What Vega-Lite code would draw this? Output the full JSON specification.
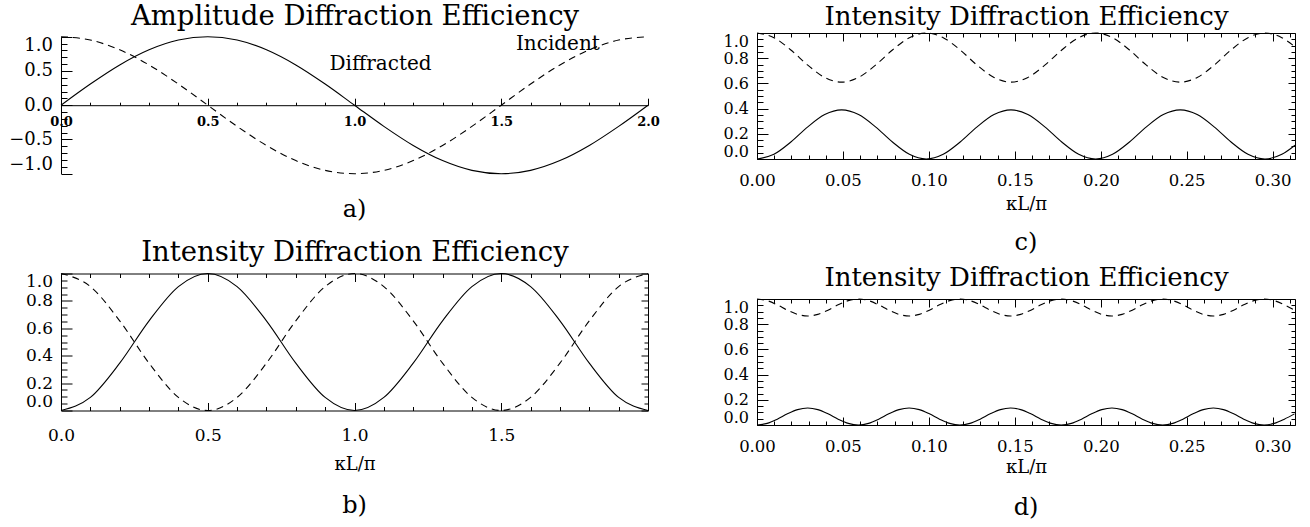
{
  "$schema": "https://vega.github.io/schema/vega-lite/v6.json",
  "background": "white",
  "padding": {"left": 8, "top": 2, "right": 5, "bottom": 5},
  "config": {
    "font": "DejaVu Serif",
    "view": {"stroke": null},
    "axis": {
      "domainColor": "black", "tickColor": "black", "labelColor": "black", "titleColor": "black",
      "grid": false, "labelFont": "DejaVu Serif", "titleFont": "DejaVu Serif", "titleFontWeight": "normal",
      "domainWidth": 1, "tickWidth": 1, "labelFontSize": 17, "titleFontSize": 27.5,
      "labelFlush": false, "labelOverlap": false
    },
    "title": {"font": "DejaVu Serif", "fontWeight": "normal", "fontSize": 24, "color": "black"},
    "line": {"color": "black", "strokeWidth": 1.1, "interpolate": "monotone"},
    "text": {"color": "black"}
  },
  "datasets": {
    "amp": [
      {"x": 0, "diffracted": 0, "incident": 1},
      {"x": 0.1, "diffracted": 0.309, "incident": 0.9511},
      {"x": 0.2, "diffracted": 0.5878, "incident": 0.809},
      {"x": 0.3, "diffracted": 0.809, "incident": 0.5878},
      {"x": 0.4, "diffracted": 0.9511, "incident": 0.309},
      {"x": 0.5, "diffracted": 1, "incident": 0},
      {"x": 0.6, "diffracted": 0.9511, "incident": -0.309},
      {"x": 0.7, "diffracted": 0.809, "incident": -0.5878},
      {"x": 0.8, "diffracted": 0.5878, "incident": -0.809},
      {"x": 0.9, "diffracted": 0.309, "incident": -0.9511},
      {"x": 1.0, "diffracted": 0, "incident": -1},
      {"x": 1.1, "diffracted": -0.309, "incident": -0.9511},
      {"x": 1.2, "diffracted": -0.5878, "incident": -0.809},
      {"x": 1.3, "diffracted": -0.809, "incident": -0.5878},
      {"x": 1.4, "diffracted": -0.9511, "incident": -0.309},
      {"x": 1.5, "diffracted": -1, "incident": 0},
      {"x": 1.6, "diffracted": -0.9511, "incident": 0.309},
      {"x": 1.7, "diffracted": -0.809, "incident": 0.5878},
      {"x": 1.8, "diffracted": -0.5878, "incident": 0.809},
      {"x": 1.9, "diffracted": -0.309, "incident": 0.9511},
      {"x": 2.0, "diffracted": 0, "incident": 1}
    ],
    "notes": [
      {"x": 0.915, "y": 0.52, "label": "Diffracted"},
      {"x": 1.55, "y": 0.81, "label": "Incident"}
    ],
    "intB": [
      {"x": 0, "diffracted": 0, "incident": 1},
      {"x": 0.1, "diffracted": 0.0955, "incident": 0.9045},
      {"x": 0.2, "diffracted": 0.3455, "incident": 0.6545},
      {"x": 0.3, "diffracted": 0.6545, "incident": 0.3455},
      {"x": 0.4, "diffracted": 0.9045, "incident": 0.0955},
      {"x": 0.5, "diffracted": 1, "incident": 0},
      {"x": 0.6, "diffracted": 0.9045, "incident": 0.0955},
      {"x": 0.7, "diffracted": 0.6545, "incident": 0.3455},
      {"x": 0.8, "diffracted": 0.3455, "incident": 0.6545},
      {"x": 0.9, "diffracted": 0.0955, "incident": 0.9045},
      {"x": 1.0, "diffracted": 0, "incident": 1},
      {"x": 1.1, "diffracted": 0.0955, "incident": 0.9045},
      {"x": 1.2, "diffracted": 0.3455, "incident": 0.6545},
      {"x": 1.3, "diffracted": 0.6545, "incident": 0.3455},
      {"x": 1.4, "diffracted": 0.9045, "incident": 0.0955},
      {"x": 1.5, "diffracted": 1, "incident": 0},
      {"x": 1.6, "diffracted": 0.9045, "incident": 0.0955},
      {"x": 1.7, "diffracted": 0.6545, "incident": 0.3455},
      {"x": 1.8, "diffracted": 0.3455, "incident": 0.6545},
      {"x": 1.9, "diffracted": 0.0955, "incident": 0.9045},
      {"x": 2.0, "diffracted": 0, "incident": 1}
    ],
    "intC": [
      {"x": 0, "diffracted": 0, "incident": 1},
      {"x": 0.00985, "diffracted": 0.0372, "incident": 0.9628},
      {"x": 0.0197, "diffracted": 0.1347, "incident": 0.8653},
      {"x": 0.02955, "diffracted": 0.2553, "incident": 0.7447},
      {"x": 0.0394, "diffracted": 0.3528, "incident": 0.6472},
      {"x": 0.04925, "diffracted": 0.39, "incident": 0.61},
      {"x": 0.0591, "diffracted": 0.3528, "incident": 0.6472},
      {"x": 0.06895, "diffracted": 0.2553, "incident": 0.7447},
      {"x": 0.0788, "diffracted": 0.1347, "incident": 0.8653},
      {"x": 0.08865, "diffracted": 0.0372, "incident": 0.9628},
      {"x": 0.0985, "diffracted": 0, "incident": 1},
      {"x": 0.10835, "diffracted": 0.0372, "incident": 0.9628},
      {"x": 0.1182, "diffracted": 0.1347, "incident": 0.8653},
      {"x": 0.12805, "diffracted": 0.2553, "incident": 0.7447},
      {"x": 0.1379, "diffracted": 0.3528, "incident": 0.6472},
      {"x": 0.14775, "diffracted": 0.39, "incident": 0.61},
      {"x": 0.1576, "diffracted": 0.3528, "incident": 0.6472},
      {"x": 0.16745, "diffracted": 0.2553, "incident": 0.7447},
      {"x": 0.1773, "diffracted": 0.1347, "incident": 0.8653},
      {"x": 0.18715, "diffracted": 0.0372, "incident": 0.9628},
      {"x": 0.197, "diffracted": 0, "incident": 1},
      {"x": 0.20685, "diffracted": 0.0372, "incident": 0.9628},
      {"x": 0.2167, "diffracted": 0.1347, "incident": 0.8653},
      {"x": 0.22655, "diffracted": 0.2553, "incident": 0.7447},
      {"x": 0.2364, "diffracted": 0.3528, "incident": 0.6472},
      {"x": 0.24625, "diffracted": 0.39, "incident": 0.61},
      {"x": 0.2561, "diffracted": 0.3528, "incident": 0.6472},
      {"x": 0.26595, "diffracted": 0.2553, "incident": 0.7447},
      {"x": 0.2758, "diffracted": 0.1347, "incident": 0.8653},
      {"x": 0.28565, "diffracted": 0.0372, "incident": 0.9628},
      {"x": 0.2955, "diffracted": 0, "incident": 1},
      {"x": 0.30535, "diffracted": 0.0372, "incident": 0.9628},
      {"x": 0.313, "diffracted": 0.1095, "incident": 0.8905}
    ],
    "intD": [
      {"x": 0, "diffracted": 0, "incident": 1},
      {"x": 0.0059, "diffracted": 0.0129, "incident": 0.9871},
      {"x": 0.0118, "diffracted": 0.0466, "incident": 0.9534},
      {"x": 0.0177, "diffracted": 0.0884, "incident": 0.9116},
      {"x": 0.0236, "diffracted": 0.1221, "incident": 0.8779},
      {"x": 0.0295, "diffracted": 0.135, "incident": 0.865},
      {"x": 0.0354, "diffracted": 0.1221, "incident": 0.8779},
      {"x": 0.0413, "diffracted": 0.0884, "incident": 0.9116},
      {"x": 0.0472, "diffracted": 0.0466, "incident": 0.9534},
      {"x": 0.0531, "diffracted": 0.0129, "incident": 0.9871},
      {"x": 0.059, "diffracted": 0, "incident": 1},
      {"x": 0.0649, "diffracted": 0.0129, "incident": 0.9871},
      {"x": 0.0708, "diffracted": 0.0466, "incident": 0.9534},
      {"x": 0.0767, "diffracted": 0.0884, "incident": 0.9116},
      {"x": 0.0826, "diffracted": 0.1221, "incident": 0.8779},
      {"x": 0.0885, "diffracted": 0.135, "incident": 0.865},
      {"x": 0.0944, "diffracted": 0.1221, "incident": 0.8779},
      {"x": 0.1003, "diffracted": 0.0884, "incident": 0.9116},
      {"x": 0.1062, "diffracted": 0.0466, "incident": 0.9534},
      {"x": 0.1121, "diffracted": 0.0129, "incident": 0.9871},
      {"x": 0.118, "diffracted": 0, "incident": 1},
      {"x": 0.1239, "diffracted": 0.0129, "incident": 0.9871},
      {"x": 0.1298, "diffracted": 0.0466, "incident": 0.9534},
      {"x": 0.1357, "diffracted": 0.0884, "incident": 0.9116},
      {"x": 0.1416, "diffracted": 0.1221, "incident": 0.8779},
      {"x": 0.1475, "diffracted": 0.135, "incident": 0.865},
      {"x": 0.1534, "diffracted": 0.1221, "incident": 0.8779},
      {"x": 0.1593, "diffracted": 0.0884, "incident": 0.9116},
      {"x": 0.1652, "diffracted": 0.0466, "incident": 0.9534},
      {"x": 0.1711, "diffracted": 0.0129, "incident": 0.9871},
      {"x": 0.177, "diffracted": 0, "incident": 1},
      {"x": 0.1829, "diffracted": 0.0129, "incident": 0.9871},
      {"x": 0.1888, "diffracted": 0.0466, "incident": 0.9534},
      {"x": 0.1947, "diffracted": 0.0884, "incident": 0.9116},
      {"x": 0.2006, "diffracted": 0.1221, "incident": 0.8779},
      {"x": 0.2065, "diffracted": 0.135, "incident": 0.865},
      {"x": 0.2124, "diffracted": 0.1221, "incident": 0.8779},
      {"x": 0.2183, "diffracted": 0.0884, "incident": 0.9116},
      {"x": 0.2242, "diffracted": 0.0466, "incident": 0.9534},
      {"x": 0.2301, "diffracted": 0.0129, "incident": 0.9871},
      {"x": 0.236, "diffracted": 0, "incident": 1},
      {"x": 0.2419, "diffracted": 0.0129, "incident": 0.9871},
      {"x": 0.2478, "diffracted": 0.0466, "incident": 0.9534},
      {"x": 0.2537, "diffracted": 0.0884, "incident": 0.9116},
      {"x": 0.2596, "diffracted": 0.1221, "incident": 0.8779},
      {"x": 0.2655, "diffracted": 0.135, "incident": 0.865},
      {"x": 0.2714, "diffracted": 0.1221, "incident": 0.8779},
      {"x": 0.2773, "diffracted": 0.0884, "incident": 0.9116},
      {"x": 0.2832, "diffracted": 0.0466, "incident": 0.9534},
      {"x": 0.2891, "diffracted": 0.0129, "incident": 0.9871},
      {"x": 0.295, "diffracted": 0, "incident": 1},
      {"x": 0.3009, "diffracted": 0.0129, "incident": 0.9871},
      {"x": 0.3068, "diffracted": 0.0466, "incident": 0.9534},
      {"x": 0.3127, "diffracted": 0.0884, "incident": 0.9116}
    ]
  },
  "spacing": 63,
  "hconcat": [
    {
      "spacing": 99.5,
      "bounds": "flush",
      "vconcat": [
        {
          "width": 587, "height": 140.7,
          "title": {"text": "a)", "orient": "bottom", "offset": 22},
          "data": {"name": "amp"},
          "layer": [
            {
              "mark": {"type": "line"},
              "encoding": {
                "x": {"field": "x", "type": "quantitative", "scale": {"domain": [0, 2], "nice": false},
                  "axis": {"orient": "bottom", "offset": -68.5, "title": null,
                    "values": [0,0.1,0.2,0.3,0.4,0.5,0.6,0.7,0.8,0.9,1,1.1,1.2,1.3,1.4,1.5,1.6,1.7,1.8,1.9,2],
                    "labelExpr": "abs(datum.value*2-round(datum.value*2))<0.001 ? format(datum.value,'.1f') : ''",
                    "tickSize": {"condition": {"test": "abs(datum.value*2-round(datum.value*2))<0.001", "value": -7}, "value": -3},
                    "labelPadding": 17.5, "labelFontSize": 13, "labelFontWeight": "bold"}},
                "y": {"field": "diffracted", "type": "quantitative", "scale": {"domain": [-1, 1], "nice": false, "range": [140.7, 3.7]},
                  "axis": {"orient": "left", "title": null,
                    "values": [-1,-0.9,-0.8,-0.7,-0.6,-0.5,-0.4,-0.3,-0.2,-0.1,0,0.1,0.2,0.3,0.4,0.5,0.6,0.7,0.8,0.9,1],
                    "labelExpr": "abs(datum.value*2-round(datum.value*2))<0.001 ? replace(format(datum.value,'.1f'),'-','\u2212') : ''",
                    "tickSize": {"condition": {"test": "abs(datum.value*2-round(datum.value*2))<0.001", "value": -11}, "value": -6},
                    "labelPadding": 19.5, "labelFlush": true, "labelFontSize": 18}}
              }
            },
            {
              "mark": {"type": "line", "strokeDash": [7, 5]},
              "encoding": {
                "x": {"field": "x", "type": "quantitative", "scale": {"domain": [0, 2], "nice": false},
                  "axis": {"orient": "top", "domain": false, "ticks": false, "labels": false,
                    "title": "Amplitude Diffraction Efficiency", "titlePadding": 3}},
                "y": {"field": "incident", "type": "quantitative", "scale": {"domain": [-1, 1], "nice": false, "range": [140.7, 3.7]}, "axis": null}
              }
            },
            {
              "data": {"name": "notes"},
              "mark": {"type": "text", "align": "left", "baseline": "alphabetic", "fontSize": 20},
              "encoding": {
                "x": {"field": "x", "type": "quantitative", "scale": {"domain": [0, 2], "nice": false}, "axis": null},
                "y": {"field": "y", "type": "quantitative", "scale": {"domain": [-1, 1], "nice": false, "range": [140.7, 3.7]}, "axis": null},
                "text": {"field": "label"}
              }
            }
          ],
          "resolve": {"axis": {"x": "independent", "y": "independent"}}
        },
        {
          "width": 587, "height": 137,
          "title": {"text": "b)", "orient": "bottom", "offset": 20},
          "data": {"name": "intB"},
          "layer": [
            {
              "mark": {"type": "line"},
              "encoding": {
                "x": {"field": "x", "type": "quantitative", "scale": {"domain": [0, 2], "nice": false},
                  "axis": {"orient": "bottom", "title": "\u03baL/\u03c0", "titleFontSize": 18, "titlePadding": 8,
                    "values": [0,0.1,0.2,0.3,0.4,0.5,0.6,0.7,0.8,0.9,1,1.1,1.2,1.3,1.4,1.5,1.6,1.7,1.8,1.9,2],
                    "labelExpr": "abs(datum.value*2-round(datum.value*2))<0.001 && datum.value<1.99 ? format(datum.value,'.1f') : ''",
                    "tickSize": {"condition": {"test": "abs(datum.value*2-round(datum.value*2))<0.001", "value": -8}, "value": -4},
                    "labelPadding": 25}},
                "y": {"field": "diffracted", "type": "quantitative", "scale": {"domain": [0, 1], "nice": false},
                  "axis": {"orient": "left", "title": null,
                    "values": [0,0.05,0.1,0.15,0.2,0.25,0.3,0.35,0.4,0.45,0.5,0.55,0.6,0.65,0.7,0.75,0.8,0.85,0.9,0.95,1],
                    "labelExpr": "abs(datum.value*5-round(datum.value*5))<0.001 ? format(datum.value,'.1f') : ''",
                    "tickSize": {"condition": {"test": "abs(datum.value*5-round(datum.value*5))<0.001", "value": -11}, "value": -6},
                    "labelPadding": 19.5, "labelFlush": true}}
              }
            },
            {
              "mark": {"type": "line", "strokeDash": [7, 5]},
              "encoding": {
                "x": {"field": "x", "type": "quantitative", "scale": {"domain": [0, 2], "nice": false},
                  "axis": {"orient": "top", "labels": false, "title": "Intensity Diffraction Efficiency", "titlePadding": 7,
                    "values": [0,0.1,0.2,0.3,0.4,0.5,0.6,0.7,0.8,0.9,1,1.1,1.2,1.3,1.4,1.5,1.6,1.7,1.8,1.9,2],
                    "tickSize": {"condition": {"test": "abs(datum.value*2-round(datum.value*2))<0.001", "value": -8}, "value": -4}}},
                "y": {"field": "incident", "type": "quantitative", "scale": {"domain": [0, 1], "nice": false},
                  "axis": {"orient": "right", "title": null, "labels": false,
                    "values": [0,0.05,0.1,0.15,0.2,0.25,0.3,0.35,0.4,0.45,0.5,0.55,0.6,0.65,0.7,0.75,0.8,0.85,0.9,0.95,1],
                    "tickSize": {"condition": {"test": "abs(datum.value*5-round(datum.value*5))<0.001", "value": -7}, "value": -4}}}
              }
            }
          ],
          "resolve": {"axis": {"x": "independent", "y": "independent"}}
        }
      ]
    },
    {
      "spacing": 140,
      "bounds": "flush",
      "vconcat": [
        {
          "width": 538, "height": 126,
          "title": {"text": "c)", "orient": "bottom", "offset": 17},
          "data": {"name": "intC"},
          "layer": [
            {
              "mark": {"type": "line"},
              "encoding": {
                "x": {"field": "x", "type": "quantitative", "scale": {"domain": [0, 0.313], "nice": false},
                  "axis": {"orient": "bottom", "title": "\u03baL/\u03c0", "titleFontSize": 18, "titlePadding": 3,
                    "values": [0,0.01,0.02,0.03,0.04,0.05,0.06,0.07,0.08,0.09,0.1,0.11,0.12,0.13,0.14,0.15,0.16,0.17,0.18,0.19,0.2,0.21,0.22,0.23,0.24,0.25,0.26,0.27,0.28,0.29,0.3,0.31],
                    "labelExpr": "abs(datum.value*20-round(datum.value*20))<0.001 ? format(datum.value,'.2f') : ''",
                    "tickSize": {"condition": {"test": "abs(datum.value*20-round(datum.value*20))<0.001", "value": -8}, "value": -4},
                    "labelPadding": 21, "labelFontSize": 16.5}},
                "y": {"field": "diffracted", "type": "quantitative", "scale": {"domain": [0, 1], "nice": false},
                  "axis": {"orient": "left", "title": null,
                    "values": [0,0.05,0.1,0.15,0.2,0.25,0.3,0.35,0.4,0.45,0.5,0.55,0.6,0.65,0.7,0.75,0.8,0.85,0.9,0.95,1],
                    "labelExpr": "abs(datum.value*5-round(datum.value*5))<0.001 ? format(datum.value,'.1f') : ''",
                    "tickSize": {"condition": {"test": "abs(datum.value*5-round(datum.value*5))<0.001", "value": -11}, "value": -6},
                    "labelPadding": 19.5, "labelFlush": true, "labelFontSize": 16}}
              }
            },
            {
              "mark": {"type": "line", "strokeDash": [7, 5]},
              "encoding": {
                "x": {"field": "x", "type": "quantitative", "scale": {"domain": [0, 0.313], "nice": false},
                  "axis": {"orient": "top", "labels": false, "title": "Intensity Diffraction Efficiency", "titlePadding": 3.5, "titleFontSize": 26,
                    "values": [0,0.01,0.02,0.03,0.04,0.05,0.06,0.07,0.08,0.09,0.1,0.11,0.12,0.13,0.14,0.15,0.16,0.17,0.18,0.19,0.2,0.21,0.22,0.23,0.24,0.25,0.26,0.27,0.28,0.29,0.3,0.31],
                    "tickSize": {"condition": {"test": "abs(datum.value*20-round(datum.value*20))<0.001", "value": -8}, "value": -4}}},
                "y": {"field": "incident", "type": "quantitative", "scale": {"domain": [0, 1], "nice": false},
                  "axis": {"orient": "right", "title": null, "labels": false,
                    "values": [0,0.05,0.1,0.15,0.2,0.25,0.3,0.35,0.4,0.45,0.5,0.55,0.6,0.65,0.7,0.75,0.8,0.85,0.9,0.95,1],
                    "tickSize": {"condition": {"test": "abs(datum.value*5-round(datum.value*5))<0.001", "value": -7}, "value": -4}}}
              }
            }
          ],
          "resolve": {"axis": {"x": "independent", "y": "independent"}}
        },
        {
          "width": 538, "height": 126,
          "title": {"text": "d)", "orient": "bottom", "offset": 19},
          "data": {"name": "intD"},
          "layer": [
            {
              "mark": {"type": "line"},
              "encoding": {
                "x": {"field": "x", "type": "quantitative", "scale": {"domain": [0, 0.313], "nice": false},
                  "axis": {"orient": "bottom", "title": "\u03baL/\u03c0", "titleFontSize": 18, "titlePadding": 0,
                    "values": [0,0.01,0.02,0.03,0.04,0.05,0.06,0.07,0.08,0.09,0.1,0.11,0.12,0.13,0.14,0.15,0.16,0.17,0.18,0.19,0.2,0.21,0.22,0.23,0.24,0.25,0.26,0.27,0.28,0.29,0.3,0.31],
                    "labelExpr": "abs(datum.value*20-round(datum.value*20))<0.001 ? format(datum.value,'.2f') : ''",
                    "tickSize": {"condition": {"test": "abs(datum.value*20-round(datum.value*20))<0.001", "value": -8}, "value": -4},
                    "labelPadding": 21, "labelFontSize": 16.5}},
                "y": {"field": "diffracted", "type": "quantitative", "scale": {"domain": [0, 1], "nice": false},
                  "axis": {"orient": "left", "title": null,
                    "values": [0,0.05,0.1,0.15,0.2,0.25,0.3,0.35,0.4,0.45,0.5,0.55,0.6,0.65,0.7,0.75,0.8,0.85,0.9,0.95,1],
                    "labelExpr": "abs(datum.value*5-round(datum.value*5))<0.001 ? format(datum.value,'.1f') : ''",
                    "tickSize": {"condition": {"test": "abs(datum.value*5-round(datum.value*5))<0.001", "value": -11}, "value": -6},
                    "labelPadding": 19.5, "labelFlush": true, "labelFontSize": 16}}
              }
            },
            {
              "mark": {"type": "line", "strokeDash": [7, 5]},
              "encoding": {
                "x": {"field": "x", "type": "quantitative", "scale": {"domain": [0, 0.313], "nice": false},
                  "axis": {"orient": "top", "labels": false, "title": "Intensity Diffraction Efficiency", "titlePadding": 8, "titleFontSize": 26,
                    "values": [0,0.01,0.02,0.03,0.04,0.05,0.06,0.07,0.08,0.09,0.1,0.11,0.12,0.13,0.14,0.15,0.16,0.17,0.18,0.19,0.2,0.21,0.22,0.23,0.24,0.25,0.26,0.27,0.28,0.29,0.3,0.31],
                    "tickSize": {"condition": {"test": "abs(datum.value*20-round(datum.value*20))<0.001", "value": -8}, "value": -4}}},
                "y": {"field": "incident", "type": "quantitative", "scale": {"domain": [0, 1], "nice": false},
                  "axis": {"orient": "right", "title": null, "labels": false,
                    "values": [0,0.05,0.1,0.15,0.2,0.25,0.3,0.35,0.4,0.45,0.5,0.55,0.6,0.65,0.7,0.75,0.8,0.85,0.9,0.95,1],
                    "tickSize": {"condition": {"test": "abs(datum.value*5-round(datum.value*5))<0.001", "value": -7}, "value": -4}}}
              }
            }
          ],
          "resolve": {"axis": {"x": "independent", "y": "independent"}}
        }
      ]
    }
  ]
}
